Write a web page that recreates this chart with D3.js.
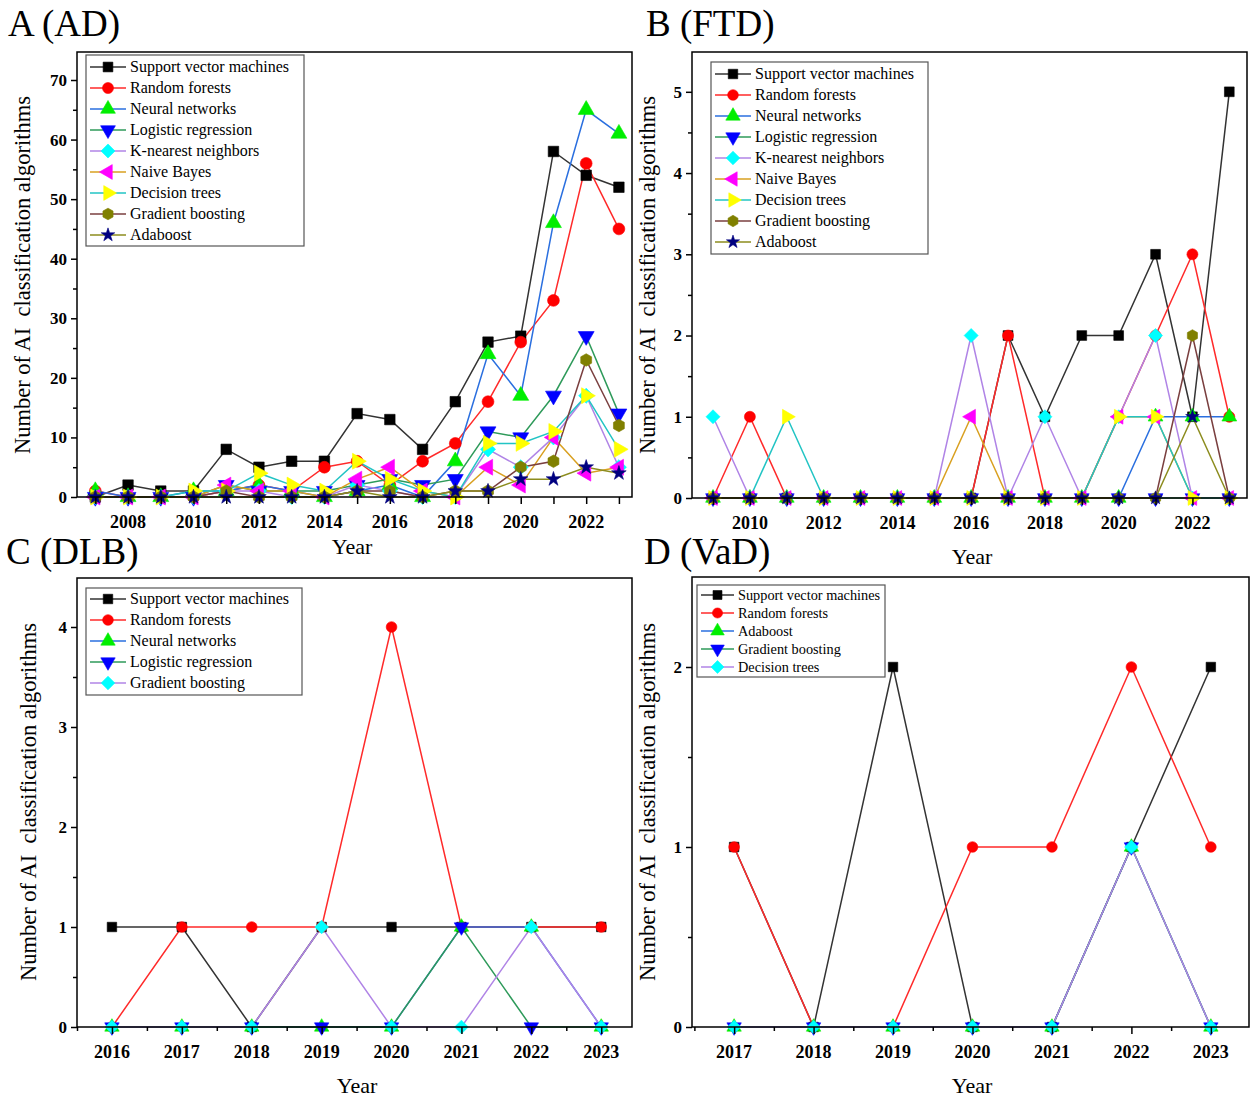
<!DOCTYPE html>
<html>
<head>
<meta charset="utf-8">
<script src="https://cdn.jsdelivr.net/npm/d3@7"></script>
<style>
  body { margin: 0; background: #fff; }
  svg text { font-family: "Times New Roman", "Liberation Serif", serif; }
</style>
</head>
<body>
<svg id="chart" width="1250" height="1099"></svg>
<script>
// ---- data ----
var yearsA = [2007,2008,2009,2010,2011,2012,2013,2014,2015,2016,2017,2018,2019,2020,2021,2022,2023];
var svmA  = [0,2,1,1,8,5,6,6,14,13,8,16,26,27,58,54,52];
var rfA   = [1,0,0,0,1,2,1,5,6,2,6,9,16,26,33,56,45];
var nnA   = [1,0,0,1,1,2,1,0,1,2,0,6,24,17,46,65,61];
var lrA   = [0,0,0,0,2,1,1,1,2,3,2,3,11,10,17,27,14];
var knnA  = [0,0,0,0,1,1,0,0,2,1,0,0,8,5,10,17,5];
var nbA   = [0,0,0,0,2,1,1,0,3,5,1,0,5,2,10,4,5];
var dtA   = [0,0,0,1,1,4,2,1,6,3,1,0,9,9,11,17,8];
var gbA   = [0,0,0,0,1,0,0,0,1,1,0,1,1,5,6,23,12];
var adaA  = [0,0,0,0,0,0,0,0,1,0,0,1,1,3,3,5,4];

var yearsB = [2009,2010,2011,2012,2013,2014,2015,2016,2017,2018,2019,2020,2021,2022,2023];
var svmB  = [0,0,0,0,0,0,0,0,2,1,2,2,3,1,5];
var rfB   = [0,1,0,0,0,0,0,0,2,0,0,1,2,3,1];
var nnB   = [0,0,0,0,0,0,0,0,0,0,0,0,1,1,1];
var lrB   = [0,0,0,0,0,0,0,0,0,0,0,0,0,0,0];
var knnB  = [1,0,0,0,0,0,0,2,0,1,0,1,2,0,0];
var nbB   = [0,0,0,0,0,0,0,1,0,0,0,1,1,0,0];
var dtB   = [0,0,1,0,0,0,0,0,0,0,0,1,1,0,0];
var gbB   = [0,0,0,0,0,0,0,0,0,0,0,0,0,2,0];
var adaB  = [0,0,0,0,0,0,0,0,0,0,0,0,0,1,0];

var yearsC = [2016,2017,2018,2019,2020,2021,2022,2023];
var svmC  = [1,1,0,1,1,1,1,1];
var rfC   = [0,1,1,1,4,1,1,1];
var nnC   = [0,0,0,0,0,1,1,0];
var lrC   = [0,0,0,0,0,1,0,0];
var gbC   = [0,0,0,1,0,0,1,0];

var yearsD = [2017,2018,2019,2020,2021,2022,2023];
var svmD  = [1,0,2,0,0,1,2];
var rfD   = [1,0,0,1,1,2,1];
var adaD  = [0,0,0,0,0,1,0];
var gbD   = [0,0,0,0,0,1,0];
var dtD   = [0,0,0,0,0,1,0];

var namesA = ["Support vector machines","Random forests","Neural networks","Logistic regression",
  "K-nearest neighbors","Naive Bayes","Decision trees","Gradient boosting","Adaboost"];
var namesC = ["Support vector machines","Random forests","Neural networks","Logistic regression","Gradient boosting"];
var namesD = ["Support vector machines","Random forests","Adaboost","Gradient boosting","Decision trees"];

// Origin-like styles: line colour differs from marker colour
var styles = [
  {line:"#333333", fill:"#000000", shape:"square"},
  {line:"#ff2a2a", fill:"#ff0000", shape:"circle"},
  {line:"#2a6fdf", fill:"#00ee00", shape:"up"},
  {line:"#2e9a5a", fill:"#0000ff", shape:"down"},
  {line:"#b084e6", fill:"#00ffff", shape:"diamond"},
  {line:"#d9a020", fill:"#ff00ff", shape:"left"},
  {line:"#22c4c4", fill:"#ffff00", shape:"right"},
  {line:"#7a3f3f", fill:"#808000", shape:"hex"},
  {line:"#8c8c1e", fill:"#000080", shape:"star"}
];

var panels = [
  {title:"A (AD)", tx:8, ty:36, years:yearsA, series:[svmA,rfA,nnA,lrA,knnA,nbA,dtA,gbA,adaA], names:namesA,
   styleIdx:[0,1,2,3,4,5,6,7,8],
   left:77, right:632, top:52, bottom:497, xDom:[2006.44,2023.4], yDom:[0,74.7],
   yMajor:[0,10,20,30,40,50,60,70], yMinor:[5,15,25,35,45,55,65],
   xTicks:yearsA, xLabels:[2008,2010,2012,2014,2016,2018,2020,2022],
   ylx:30, yly:275, xlx:352, xly:554, tickY:528,
   legend:{x:86, y:55, w:218, h:191, step:21, first:12, font:16, lineLen:36, msize:95}, msize:110},
  {title:"B (FTD)", tx:646, ty:36, years:yearsB, series:[svmB,rfB,nnB,lrB,knnB,nbB,dtB,gbB,adaB], names:namesA,
   styleIdx:[0,1,2,3,4,5,6,7,8],
   left:692, right:1247, top:52, bottom:498, xDom:[2008.43,2023.48], yDom:[0,5.49],
   yMajor:[0,1,2,3,4,5], yMinor:[0.5,1.5,2.5,3.5,4.5],
   xTicks:yearsB, xLabels:[2010,2012,2014,2016,2018,2020,2022],
   ylx:655, yly:275, xlx:972, xly:564, tickY:529,
   legend:{x:711, y:62, w:217, h:192, step:21, first:12, font:16, lineLen:36, msize:90}, msize:95},
  {title:"C (DLB)", tx:6, ty:564, years:yearsC, series:[svmC,rfC,nnC,lrC,gbC], names:namesC,
   styleIdx:[0,1,2,3,4],
   left:77, right:632, top:578, bottom:1027, xDom:[2015.5,2023.44], yDom:[0,4.49],
   yMajor:[0,1,2,3,4], yMinor:[0.5,1.5,2.5,3.5],
   xTicks:[2015.5,2016,2016.5,2017,2017.5,2018,2018.5,2019,2019.5,2020,2020.5,2021,2021.5,2022,2022.5,2023],
   xLabels:yearsC, minorX:true,
   ylx:36, yly:802, xlx:357, xly:1093, tickY:1058,
   legend:{x:86, y:588, w:216, h:107, step:21, first:11, font:16, lineLen:36, msize:90}, msize:90},
  {title:"D (VaD)", tx:644, ty:564, years:yearsD, series:[svmD,rfD,adaD,gbD,dtD], names:namesD,
   styleIdx:[0,1,2,3,4],
   left:692, right:1249, top:577, bottom:1027, xDom:[2016.47,2023.48], yDom:[0,2.5],
   yMajor:[0,1,2], yMinor:[0.5,1.5],
   xTicks:[2016.5,2017,2017.5,2018,2018.5,2019,2019.5,2020,2020.5,2021,2021.5,2022,2022.5,2023],
   xLabels:yearsD, minorX:true,
   ylx:655, yly:802, xlx:972, xly:1093, tickY:1058,
   legend:{x:697, y:585, w:188, h:92, step:18, first:10, font:14.3, lineLen:33, msize:80}, msize:90}
];

var svg = d3.select("#chart");

function markerPath(shape, size) {
  var r = Math.sqrt(size);
  if (shape == "square") return d3.symbol(d3.symbolSquare, size)();
  if (shape == "circle") return d3.symbol(d3.symbolCircle, size)();
  if (shape == "star") return d3.symbol(d3.symbolStar, size * 0.6)();
  if (shape == "diamond") {
    var h = r * 0.72;
    return "M0," + (-h) + "L" + h + ",0L0," + h + "L" + (-h) + ",0Z";
  }
  if (shape == "hex") {
    var rr = r * 0.6, pts = [];
    for (var i = 0; i < 6; i++) {
      var a = -Math.PI / 2 + i * Math.PI / 3;
      pts.push([rr * Math.cos(a), rr * Math.sin(a)]);
    }
    return "M" + pts.join("L") + "Z";
  }
  // triangles
  return d3.symbol(d3.symbolTriangle, size)();
}
function markerRotate(shape) {
  if (shape == "down") return 180;
  if (shape == "left") return -90;
  if (shape == "right") return 90;
  return 0;
}

function drawMarker(g, style, x, y, size) {
  g.append("path")
    .attr("d", markerPath(style.shape, size))
    .attr("transform", "translate(" + x + "," + y + ") rotate(" + markerRotate(style.shape) + ")")
    .attr("fill", style.fill)
    .attr("stroke", style.fill)
    .attr("stroke-width", 0.6);
}

panels.forEach(function(p) {
  var g = svg.append("g");
  var x = d3.scaleLinear().domain(p.xDom).range([p.left, p.right]);
  var y = d3.scaleLinear().domain(p.yDom).range([p.bottom, p.top]);

  // title
  g.append("text").attr("x", p.tx).attr("y", p.ty)
    .attr("font-size", 37).text(p.title);

  // series lines
  var line = d3.line().x(function(d) { return x(d[0]); }).y(function(d) { return y(d[1]); });
  p.series.forEach(function(vals, i) {
    var st = styles[p.styleIdx[i]];
    var pts = p.years.map(function(yr, j) { return [yr, vals[j]]; });
    g.append("path").datum(pts)
      .attr("d", line)
      .attr("fill", "none")
      .attr("stroke", st.line)
      .attr("stroke-width", 1.5);
  });
  // markers on top, in series order
  p.series.forEach(function(vals, i) {
    var st = styles[p.styleIdx[i]];
    p.years.forEach(function(yr, j) {
      drawMarker(g, st, x(yr), y(vals[j]), p.msize);
    });
  });

  // frame
  g.append("path")
    .attr("d", "M" + p.left + "," + p.bottom + "V" + p.top + "H" + p.right + "V" + p.bottom + "Z")
    .attr("fill", "none").attr("stroke", "#000").attr("stroke-width", 1.5);

  // y axis ticks
  var yAxis = d3.axisLeft(y).tickValues(p.yMajor).tickSize(6).tickSizeOuter(0).tickPadding(4)
    .tickFormat(d3.format("d"));
  var ya = g.append("g").attr("transform", "translate(" + p.left + ",0)").call(yAxis);
  ya.select(".domain").remove();
  ya.selectAll("text").attr("font-size", 17).attr("font-weight", "bold")
    .attr("font-family", "'Times New Roman','Liberation Serif',serif").attr("fill", "#000");
  ya.selectAll("line").attr("stroke-width", 1.5);
  var ym = g.append("g").attr("transform", "translate(" + p.left + ",0)")
    .call(d3.axisLeft(y).tickValues(p.yMinor).tickSize(4).tickFormat(""));
  ym.select(".domain").remove();
  ym.selectAll("line").attr("stroke-width", 1.5);

  // x axis ticks
  var xAxis = d3.axisBottom(x).tickValues(p.xTicks).tickSize(p.minorX ? 4 : 6).tickFormat("");
  var xa = g.append("g").attr("transform", "translate(0," + p.bottom + ")").call(xAxis);
  xa.select(".domain").remove();
  xa.selectAll("line").attr("stroke-width", 1.5)
    .attr("y2", function(d) { return p.minorX && d % 1 == 0 ? 7 : (p.minorX ? 4 : 7); });
  g.selectAll(null).data(p.xLabels).enter().append("text")
    .attr("x", function(d) { return x(d); })
    .attr("y", p.tickY)
    .attr("text-anchor", "middle")
    .attr("font-size", 18).attr("font-weight", "bold")
    .text(function(d) { return d; });

  // axis titles
  g.append("text").attr("x", p.xlx).attr("y", p.xly)
    .attr("text-anchor", "middle").attr("font-size", 22).text("Year");
  g.append("text")
    .attr("transform", "translate(" + p.ylx + "," + p.yly + ") rotate(-90)")
    .attr("text-anchor", "middle").attr("font-size", 22.5)
    .style("white-space", "pre")
    .text("Number of AI  classification algorithms");

  // legend
  var L = p.legend;
  var lg = g.append("g");
  lg.append("rect").attr("x", L.x).attr("y", L.y).attr("width", L.w).attr("height", L.h)
    .attr("fill", "#fff").attr("stroke", "#555").attr("stroke-width", 1.2);
  p.names.forEach(function(nm, i) {
    var st = styles[p.styleIdx[i]];
    var cy = L.y + L.first + i * L.step;
    lg.append("line").attr("x1", L.x + 4).attr("x2", L.x + 4 + L.lineLen)
      .attr("y1", cy).attr("y2", cy).attr("stroke", st.line).attr("stroke-width", 1.5);
    drawMarker(lg, st, L.x + 4 + L.lineLen / 2, cy, L.msize);
    lg.append("text").attr("x", L.x + L.lineLen + 8).attr("y", cy + 5)
      .attr("font-size", L.font).text(nm);
  });
});
</script>
</body>
</html>
